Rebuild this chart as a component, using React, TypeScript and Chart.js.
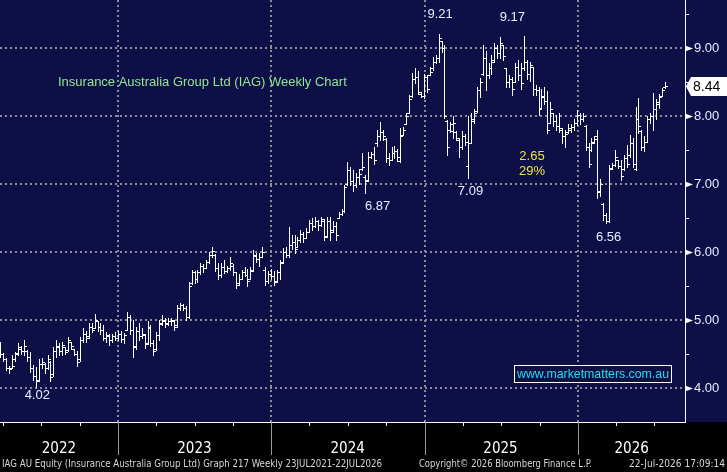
import React, { useEffect, useRef } from 'react';
import { Chart, BarController, registerables } from 'chart.js';

// ---- Weekly OHLC data (IAG) ----
const OPEN = [
  4.62, 4.50, 4.42, 4.30, 4.30, 4.42, 4.52, 4.58, 4.55, 4.55,
  4.46, 4.30, 4.18, 4.12, 4.35, 4.36, 4.30, 4.38, 4.20, 4.55,
  4.60, 4.55, 4.60, 4.56, 4.68, 4.58, 4.50, 4.42, 4.70, 4.80,
  4.76, 4.90, 4.88, 4.98, 4.90, 4.86, 4.74, 4.76, 4.70, 4.76,
  4.74, 4.80, 4.72, 4.86, 5.04, 4.85, 4.62, 4.84, 4.76, 4.78,
  4.66, 4.88, 4.66, 4.58, 4.78, 4.94, 4.98, 4.94, 4.98, 4.98,
  4.92, 5.18, 5.22, 5.18, 5.05, 5.55, 5.70, 5.60, 5.70, 5.80,
  5.76, 5.86, 5.96, 5.95, 5.76, 5.66, 5.78, 5.72, 5.76, 5.80,
  5.70, 5.54, 5.60, 5.70, 5.66, 5.60, 5.74, 5.94, 5.90, 5.92,
  5.74, 5.58, 5.68, 5.64, 5.58, 5.70, 5.86, 6.00, 5.96, 6.10,
  6.15, 6.07, 6.18, 6.26, 6.20, 6.30, 6.42, 6.38, 6.46, 6.40,
  6.46, 6.24, 6.45, 6.32, 6.38, 6.50, 6.56, 6.60, 7.00, 7.20,
  7.05, 6.98, 7.10, 7.22, 7.10, 7.06, 7.40, 7.44, 7.60, 7.70,
  7.76, 7.66, 7.38, 7.35, 7.45, 7.48, 7.34, 7.72, 7.88, 8.04,
  8.30, 8.55, 8.58, 8.32, 8.30, 8.58, 8.60, 8.70, 8.80, 8.86,
  9.10, 9.00, 7.92, 7.80, 7.78, 7.76, 7.65, 7.55, 7.70, 7.26,
  7.60, 7.92, 8.08, 8.38, 8.62, 8.85, 8.60, 8.70, 8.82, 9.00,
  8.92, 9.05, 8.70, 8.50, 8.55, 8.50, 8.72, 8.60, 8.70, 8.80,
  8.62, 8.72, 8.40, 8.38, 8.12, 8.28, 8.22, 7.90, 8.05, 7.92,
  7.86, 7.80, 7.70, 7.76, 7.80, 7.84, 7.90, 8.02, 7.96, 7.86,
  7.55, 7.50, 7.62, 7.70, 6.88, 6.70, 6.55, 6.46, 7.24, 7.28,
  7.36, 7.26, 7.22, 7.38, 7.42, 7.60, 7.22, 7.95, 7.78, 7.55,
  7.62, 7.95, 8.00, 8.10, 8.18, 8.30, 8.42,
];
const HIGH = [
  4.68, 4.52, 4.44, 4.33, 4.48, 4.53, 4.66, 4.62, 4.70, 4.56,
  4.53, 4.34, 4.31, 4.42, 4.44, 4.37, 4.48, 4.40, 4.60, 4.70,
  4.66, 4.68, 4.60, 4.75, 4.68, 4.58, 4.55, 4.75, 4.88, 4.84,
  4.95, 4.95, 5.09, 4.98, 4.96, 4.93, 4.83, 4.80, 4.80, 4.82,
  4.84, 4.84, 4.81, 5.12, 5.08, 5.00, 4.90, 4.96, 4.88, 4.80,
  4.98, 4.92, 4.70, 4.82, 5.00, 5.07, 5.03, 5.03, 5.03, 5.00,
  5.22, 5.25, 5.24, 5.20, 5.56, 5.74, 5.72, 5.74, 5.84, 5.82,
  5.88, 6.00, 6.08, 5.97, 5.84, 5.84, 5.88, 5.80, 5.92, 5.82,
  5.70, 5.68, 5.74, 5.78, 5.75, 5.78, 6.03, 5.98, 5.98, 6.08,
  5.78, 5.72, 5.75, 5.72, 5.74, 5.88, 6.06, 6.08, 6.37, 6.25,
  6.25, 6.22, 6.32, 6.29, 6.35, 6.47, 6.50, 6.51, 6.47, 6.51,
  6.48, 6.52, 6.51, 6.45, 6.44, 6.59, 6.63, 6.99, 7.32, 7.25,
  7.20, 7.16, 7.22, 7.46, 7.13, 7.47, 7.47, 7.55, 7.79, 7.91,
  7.80, 7.68, 7.45, 7.55, 7.56, 7.52, 7.82, 7.84, 8.04, 8.31,
  8.63, 8.71, 8.66, 8.35, 8.62, 8.60, 8.72, 8.87, 8.90, 9.21,
  9.10, 9.04, 7.94, 7.91, 8.00, 7.78, 7.67, 7.78, 7.74, 8.00,
  8.05, 8.11, 8.43, 8.56, 9.04, 8.95, 8.78, 8.90, 9.07, 9.05,
  9.16, 9.05, 8.71, 8.60, 8.58, 8.78, 8.82, 8.78, 9.17, 8.82,
  8.80, 8.72, 8.45, 8.43, 8.40, 8.43, 8.37, 8.20, 8.05, 8.02,
  8.04, 7.82, 7.80, 7.88, 7.88, 7.95, 8.09, 8.05, 8.04, 7.87,
  7.60, 7.68, 7.70, 7.79, 7.08, 6.72, 6.57, 7.28, 7.31, 7.50,
  7.36, 7.35, 7.43, 7.57, 7.72, 7.68, 8.13, 8.26, 7.80, 7.70,
  8.00, 8.05, 8.34, 8.25, 8.33, 8.41, 8.50,
];
const LOW = [
  4.46, 4.40, 4.26, 4.22, 4.30, 4.40, 4.48, 4.50, 4.48, 4.40,
  4.24, 4.12, 4.02, 4.10, 4.30, 4.22, 4.28, 4.10, 4.18, 4.46,
  4.49, 4.48, 4.50, 4.55, 4.58, 4.48, 4.33, 4.40, 4.68, 4.68,
  4.74, 4.83, 4.88, 4.84, 4.80, 4.70, 4.68, 4.63, 4.68, 4.70,
  4.70, 4.68, 4.66, 4.85, 4.80, 4.46, 4.58, 4.70, 4.74, 4.59,
  4.64, 4.62, 4.49, 4.56, 4.70, 4.92, 4.90, 4.92, 4.92, 4.86,
  4.90, 5.15, 5.14, 5.00, 5.03, 5.53, 5.55, 5.56, 5.68, 5.70,
  5.76, 5.84, 5.92, 5.72, 5.60, 5.63, 5.69, 5.70, 5.74, 5.66,
  5.47, 5.52, 5.60, 5.64, 5.50, 5.60, 5.72, 5.86, 5.80, 5.92,
  5.52, 5.55, 5.60, 5.52, 5.56, 5.60, 5.84, 5.92, 5.93, 6.05,
  5.98, 6.07, 6.14, 6.15, 6.20, 6.29, 6.33, 6.37, 6.33, 6.38,
  6.18, 6.22, 6.18, 6.30, 6.18, 6.50, 6.55, 6.59, 6.99, 6.99,
  6.90, 6.95, 7.00, 7.21, 6.87, 7.05, 7.38, 7.30, 7.56, 7.65,
  7.64, 7.32, 7.28, 7.35, 7.38, 7.34, 7.32, 7.72, 7.88, 8.04,
  8.28, 8.49, 8.32, 8.28, 8.26, 8.35, 8.60, 8.68, 8.78, 8.80,
  8.94, 7.97, 7.43, 7.76, 7.68, 7.64, 7.40, 7.52, 7.58, 7.09,
  7.60, 7.90, 8.06, 8.28, 8.60, 8.38, 8.56, 8.62, 8.80, 8.85,
  8.85, 8.82, 8.43, 8.43, 8.31, 8.50, 8.53, 8.40, 8.68, 8.55,
  8.52, 8.31, 8.31, 8.01, 8.12, 8.18, 7.75, 7.90, 7.85, 7.80,
  7.76, 7.60, 7.55, 7.75, 7.76, 7.80, 7.87, 7.88, 7.93, 7.50,
  7.25, 7.48, 7.60, 6.79, 6.82, 6.47, 6.42, 6.44, 7.22, 7.26,
  7.23, 7.06, 7.20, 7.25, 7.40, 7.25, 7.20, 7.75, 7.50, 7.48,
  7.62, 7.90, 7.79, 7.95, 8.12, 8.30, 8.41,
];
const CLOSE = [
  4.50, 4.43, 4.30, 4.28, 4.33, 4.50, 4.60, 4.55, 4.62, 4.46,
  4.30, 4.18, 4.10, 4.35, 4.38, 4.30, 4.42, 4.16, 4.55, 4.62,
  4.55, 4.63, 4.53, 4.70, 4.62, 4.50, 4.38, 4.70, 4.80, 4.74,
  4.90, 4.86, 5.00, 4.90, 4.86, 4.74, 4.78, 4.70, 4.76, 4.74,
  4.80, 4.72, 4.78, 5.05, 4.85, 4.60, 4.84, 4.76, 4.80, 4.64,
  4.90, 4.66, 4.55, 4.78, 4.95, 5.00, 4.95, 4.98, 5.00, 4.90,
  5.18, 5.22, 5.18, 5.05, 5.50, 5.70, 5.60, 5.70, 5.80, 5.76,
  5.85, 5.96, 6.02, 5.76, 5.66, 5.78, 5.72, 5.76, 5.84, 5.70,
  5.52, 5.60, 5.70, 5.66, 5.58, 5.72, 5.95, 5.90, 5.92, 6.00,
  5.58, 5.68, 5.64, 5.56, 5.70, 5.84, 6.00, 5.96, 6.10, 6.15,
  6.05, 6.18, 6.26, 6.20, 6.30, 6.42, 6.38, 6.46, 6.40, 6.48,
  6.22, 6.45, 6.30, 6.38, 6.25, 6.56, 6.60, 6.95, 7.20, 7.05,
  6.98, 7.10, 7.15, 7.25, 7.05, 7.40, 7.44, 7.35, 7.70, 7.76,
  7.70, 7.38, 7.35, 7.45, 7.48, 7.40, 7.70, 7.80, 8.00, 8.25,
  8.55, 8.58, 8.36, 8.30, 8.58, 8.40, 8.65, 8.80, 8.86, 9.15,
  9.00, 8.00, 7.55, 7.88, 7.90, 7.68, 7.55, 7.70, 7.62, 7.60,
  7.95, 8.05, 8.38, 8.50, 8.85, 8.60, 8.70, 8.80, 9.00, 8.92,
  9.08, 8.88, 8.50, 8.55, 8.40, 8.72, 8.60, 8.48, 8.80, 8.62,
  8.75, 8.40, 8.38, 8.10, 8.30, 8.22, 7.80, 8.10, 7.92, 7.86,
  7.82, 7.70, 7.74, 7.82, 7.84, 7.90, 8.02, 7.96, 8.00, 7.55,
  7.30, 7.60, 7.66, 6.90, 7.00, 6.55, 6.45, 7.22, 7.28, 7.40,
  7.26, 7.12, 7.38, 7.30, 7.60, 7.30, 7.95, 7.85, 7.55, 7.62,
  7.95, 8.00, 8.10, 8.20, 8.28, 8.38, 8.44,
];

// ---- Axes ----
const Y_MIN = 3.5;
const Y_MAX = 9.706;
const X_MIN = -0.34;
const X_MAX = 232.65;
const Y_TICKS = [4, 5, 6, 7, 8, 9];
const Y_MINOR = [4.5, 5.5, 6.5, 7.5, 8.5, 9.5];
const YEAR_BOUNDS = [39.8, 91.8, 144.2, 196.3];
const YEAR_LABELS = ['2022', '2023', '2024', '2025', '2026'];
const YEAR_LABEL_POS = [19.7, 65.8, 117.9, 169.9, 214.5];
const QUARTER_TICKS = [0.7, 13.6, 26.9, 52.7, 66.0, 78.9, 104.8, 118.0, 131.0, 157.1, 170.1, 183.3, 209.2, 222.1];

// ---- Annotations ----
const ANN_TEXT = ['9.21', '9.17', '6.87', '7.09', '6.56', '4.02'];
const ANN_INDEX = [149, 178, 124, 159, 206, 12];
const ANN_SIDE = ['high', 'high', 'low', 'low', 'low', 'low'];
const CHANGE_TEXT = ['2.65', '29%'];
const CHANGE_X = 180.6;
const CHANGE_Y = [7.41, 7.18];

const TITLE = 'Insurance Australia Group Ltd (IAG) Weekly Chart';
const WATERMARK = 'www.marketmatters.com.au';
const FOOTER_LEFT = 'IAG AU Equity (Insurance Australia Group Ltd) Graph 217 Weekly 23JUL2021-22JUL2026';
const FOOTER_MID = 'Copyright\u00A9 2026 Bloomberg Finance L.P.';
const FOOTER_RIGHT = '22-Jul-2026 17:09:14';

const NAVY = '#0f0f47';
const GRID = '#8c8c99';
const LABEL = '#e8eeff';
const SANS = '"Liberation Sans", Arial, sans-serif';
const NARROW = '"Liberation Sans Narrow", "DejaVu Sans Condensed", "Arial Narrow", sans-serif';

class OhlcController extends BarController {
  static id = 'ohlc';
  draw() {
    const self: any = this;
    const meta = self._cachedMeta;
    const ctx = self.chart.ctx;
    const ds = self.getDataset();
    const vScale = meta.vScale;
    ctx.save();
    ctx.fillStyle = ds.barColor || '#ffffff';
    meta.data.forEach((el: any, i: number) => {
      const d = ds.data[i];
      const px = Math.round(el.x - 0.5);
      const yh = Math.round(vScale.getPixelForValue(d.y[1]));
      const yl = Math.round(vScale.getPixelForValue(d.y[0]));
      const yo = Math.round(vScale.getPixelForValue(d.o));
      const yc = Math.round(vScale.getPixelForValue(d.c));
      ctx.fillRect(px, yh, 1, Math.max(1, yl - yh + 1));
      ctx.fillRect(px - 2, yo, 2, 1);
      ctx.fillRect(px + 1, yc, 2, 1);
    });
    ctx.restore();
  }
}

Chart.register(...registerables, OhlcController as any);

function fitText(ctx: CanvasRenderingContext2D, text: string, x: number, y: number, w: number) {
  const m = ctx.measureText(text).width || 1;
  ctx.save();
  ctx.translate(x, y);
  ctx.scale(w / m, 1);
  ctx.textAlign = 'left';
  ctx.fillText(text, 0, 0);
  ctx.restore();
}

const near = (a: number, b: number) => Math.abs(a - b) < 1e-6;

const backgroundPlugin = {
  id: 'bbgBackground',
  beforeDraw(chart: any) {
    const { ctx, width, height, chartArea } = chart;
    ctx.save();
    ctx.fillStyle = '#000000';
    ctx.fillRect(0, 0, width, height);
    ctx.fillStyle = NAVY;
    ctx.fillRect(0, 0, width, chartArea.bottom);
    ctx.restore();
  },
};

const decorPlugin = {
  id: 'bbgDecor',
  afterDatasetsDraw(chart: any) {
    const { ctx, chartArea: ca, scales } = chart;
    const x = scales.x;
    const y = scales.y;
    ctx.save();
    ctx.textBaseline = 'middle';

    // title
    ctx.font = `13px ${SANS}`;
    ctx.fillStyle = '#8fe88f';
    ctx.textAlign = 'left';
    ctx.fillText(TITLE, ca.left + 58, ca.top + 82);

    // watermark box
    ctx.fillStyle = NAVY;
    ctx.fillRect(ca.left + 514, ca.top + 365, 158, 18);
    ctx.strokeStyle = '#ffffff';
    ctx.lineWidth = 1;
    ctx.strokeRect(ca.left + 514.5, ca.top + 365.5, 157, 17);
    ctx.font = `13px ${SANS}`;
    ctx.fillStyle = '#27dcea';
    fitText(ctx, WATERMARK, ca.left + 517, ca.top + 374.5, 152);

    // high / low annotations
    ctx.font = `13px ${SANS}`;
    ctx.fillStyle = LABEL;
    ctx.textAlign = 'center';
    ANN_TEXT.forEach((t, k) => {
      const i = ANN_INDEX[k];
      const px = x.getPixelForValue(i);
      if (ANN_SIDE[k] === 'high') {
        ctx.fillText(t, px + (k === 1 ? -12 : 1), y.getPixelForValue(HIGH[i]) - 19);
      } else {
        const dx = k === 2 ? 12 : k === 5 ? 1 : 2;
        const dy = k === 5 ? 9 : 14;
        ctx.fillText(t, px + dx, y.getPixelForValue(LOW[i]) + dy);
      }
    });

    // change annotation
    ctx.fillStyle = '#e6e63c';
    CHANGE_TEXT.forEach((t, k) => {
      ctx.fillText(t, x.getPixelForValue(CHANGE_X), y.getPixelForValue(CHANGE_Y[k]));
    });
    ctx.restore();
  },
  afterDraw(chart: any) {
    const { ctx, chartArea: ca, scales, width } = chart;
    const x = scales.x;
    const y = scales.y;
    ctx.save();
    // y-axis markers
    ctx.fillStyle = '#ffffff';
    Y_TICKS.forEach((v) => {
      const py = Math.round(y.getPixelForValue(v)) + 0.5;
      ctx.beginPath();
      ctx.moveTo(ca.right, py - 3);
      ctx.lineTo(ca.right + 8, py);
      ctx.lineTo(ca.right, py + 3);
      ctx.closePath();
      ctx.fill();
    });
    Y_MINOR.forEach((v) => {
      const py = Math.round(y.getPixelForValue(v));
      ctx.fillRect(ca.right, py, 4, 1);
    });
    // x-axis ticks
    QUARTER_TICKS.forEach((v) => {
      ctx.fillRect(Math.round(x.getPixelForValue(v)), ca.bottom, 1, 4);
    });
    ctx.fillStyle = '#9a9aa2';
    YEAR_BOUNDS.forEach((v) => {
      ctx.fillRect(Math.round(x.getPixelForValue(v)), ca.bottom, 1, 33);
    });

    // last price tag
    const last = CLOSE.length - 1;
    const py = Math.round(y.getPixelForValue(CLOSE[last])) + 0.5;
    ctx.fillStyle = '#ffffff';
    ctx.beginPath();
    ctx.moveTo(ca.right + 1, py);
    ctx.lineTo(ca.right + 6, py - 9.5);
    ctx.lineTo(width, py - 9.5);
    ctx.lineTo(width, py + 9.5);
    ctx.lineTo(ca.right + 6, py + 9.5);
    ctx.closePath();
    ctx.fill();
    ctx.fillStyle = '#000000';
    ctx.font = `14px ${SANS}`;
    ctx.textBaseline = 'middle';
    ctx.textAlign = 'left';
    ctx.fillText(CLOSE[last].toFixed(2), ca.right + 8, py + 0.5);

    // footer
    ctx.font = `11px ${NARROW}`;
    ctx.fillStyle = '#d6d6d6';
    fitText(ctx, FOOTER_LEFT, 2, 464, 380);
    fitText(ctx, FOOTER_MID, 419, 464, 173);
    fitText(ctx, FOOTER_RIGHT, 629, 464, 96);
    ctx.restore();
  },
};

export default function App() {
  const canvasRef = useRef<HTMLCanvasElement | null>(null);

  useEffect(() => {
    document.body.style.margin = '0';
    document.body.style.background = '#000';
    const canvas = canvasRef.current;
    if (!canvas) return;

    const data = HIGH.map((h, i) => ({ x: i, y: [LOW[i], h], o: OPEN[i], c: CLOSE[i] }));

    const chart = new Chart(canvas, {
      type: 'ohlc' as any,
      data: {
        datasets: [
          {
            label: 'IAG',
            data: data as any,
            barThickness: 1,
            barColor: '#ffffff',
          } as any,
        ],
      },
      options: {
        animation: false,
        responsive: false,
        events: [],
        layout: { padding: 0 },
        plugins: { legend: { display: false }, tooltip: { enabled: false } },
        scales: {
          x: {
            type: 'linear',
            min: X_MIN,
            max: X_MAX,
            offset: false,
            afterBuildTicks: (s: any) => {
              s.ticks = [...YEAR_BOUNDS, ...YEAR_LABEL_POS].sort((a, b) => a - b).map((v) => ({ value: v }));
            },
            afterFit: (s: any) => {
              s.height = 50;
              s.paddingLeft = 0;
              s.paddingRight = 0;
            },
            grid: {
              offset: false,
              drawTicks: false,
              lineWidth: 2,
              color: (c: any) => (c.tick && YEAR_BOUNDS.some((b) => near(b, c.tick.value)) ? GRID : 'rgba(0,0,0,0)'),
            },
            border: { display: true, color: '#ffffff', width: 1, dash: [2, 3] },
            ticks: {
              autoSkip: false,
              maxRotation: 0,
              minRotation: 0,
              padding: 18,
              color: '#ffffff',
              font: { family: NARROW, size: 15 },
              callback: (v: any) => {
                const k = YEAR_LABEL_POS.findIndex((p) => near(p, Number(v)));
                return k >= 0 ? YEAR_LABELS[k] : '';
              },
            },
          },
          y: {
            type: 'linear',
            position: 'right',
            min: Y_MIN,
            max: Y_MAX,
            afterBuildTicks: (s: any) => {
              s.ticks = Y_TICKS.map((v) => ({ value: v }));
            },
            afterFit: (s: any) => {
              s.width = 42;
              s.paddingTop = 0;
              s.paddingBottom = 0;
            },
            grid: { drawTicks: false, lineWidth: 2, color: GRID },
            border: { display: true, color: '#ffffff', width: 1, dash: [2, 3] },
            ticks: {
              padding: 9,
              color: LABEL,
              font: { family: SANS, size: 13 },
              callback: (v: any) => Number(v).toFixed(2),
            },
          },
        },
      },
      plugins: [backgroundPlugin, decorPlugin],
    } as any);

    return () => chart.destroy();
  }, []);

  return (
    <div style={{ width: 727, height: 472, background: '#000' }}>
      <canvas ref={canvasRef} width={727} height={472} style={{ display: 'block' }} />
    </div>
  );
}
